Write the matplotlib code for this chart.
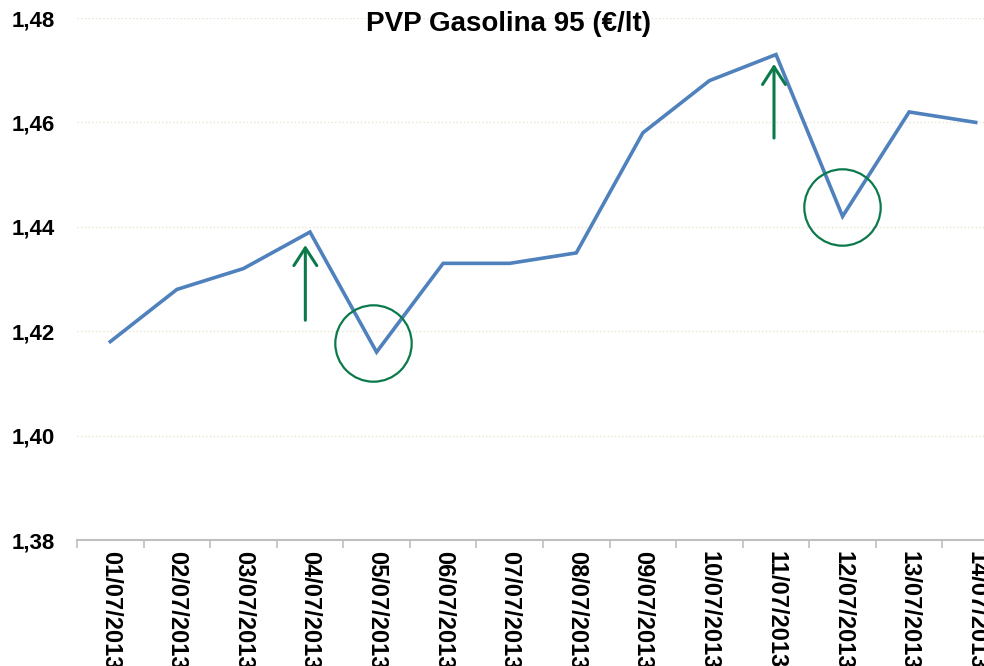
import matplotlib.pyplot as plt
import numpy as np
from matplotlib.ticker import FixedLocator, FuncFormatter

dates = ['01/07/2013', '02/07/2013', '03/07/2013', '04/07/2013', '05/07/2013',
         '06/07/2013', '07/07/2013', '08/07/2013', '09/07/2013', '10/07/2013',
         '11/07/2013', '12/07/2013', '13/07/2013', '14/07/2013']
prices = [1.418, 1.428, 1.432, 1.439, 1.416, 1.433, 1.433, 1.435, 1.458,
          1.468, 1.473, 1.442, 1.462, 1.460]

# annotations: rising arrows and circled dips
arrow_x = [2.93, 9.97]
arrow_from = [1.4221, 1.4570]
arrow_to = [1.4365, 1.4712]
circle_x = [3.95, 10.99]
circle_y = [1.4177, 1.4438]

plt.rcParams['font.family'] = ['Liberation Sans', 'DejaVu Sans']

fig = plt.figure(figsize=(9.84, 6.66), dpi=100)
ax = fig.add_axes([77 / 984, 126 / 666, 932 / 984, 522 / 666])

x = np.arange(len(dates))
ax.plot(x, prices, color='#4F81BD', lw=2.6, solid_joinstyle='miter', zorder=3)

green = '#0B7A4B'
for xa, y0, y1 in zip(arrow_x, arrow_from, arrow_to):
    ax.annotate('', xy=(xa, y1), xytext=(xa, y0),
                arrowprops=dict(arrowstyle='->,head_length=0.85,head_width=0.55',
                                color=green, lw=2.2, mutation_scale=15,
                                shrinkA=0, shrinkB=0))
ax.plot(circle_x, circle_y, 'o', ms=55, mfc='none', mec=green, mew=1.6, zorder=4)

ax.set_xlim(-0.5, len(dates) - 0.5)
ax.set_ylim(1.38, 1.48)
ax.set_yticks(np.arange(1.38, 1.481, 0.02))
ax.yaxis.set_major_formatter(FuncFormatter(lambda v, p: f'{v:.2f}'.replace('.', ',')))
ax.tick_params(axis='y', length=0, pad=16, labelsize=16)
for t in ax.get_yticklabels():
    t.set_fontweight('bold')

ax.set_xticks(x)
ax.set_xticklabels(dates, rotation=270, fontsize=17, fontweight='bold', va='top', ha='center')
ax.xaxis.set_minor_locator(FixedLocator(np.arange(-0.5, len(dates), 1)))
ax.tick_params(axis='x', which='major', length=0, pad=8)
ax.tick_params(axis='x', which='minor', length=6, width=1.2, color='#BFBFBF')

ax.grid(axis='y', color='#E6E4D2', linestyle=':', lw=1)
ax.set_axisbelow(True)
for s in ['top', 'right', 'left']:
    ax.spines[s].set_visible(False)
ax.spines['bottom'].set_color('#BFBFBF')
ax.spines['bottom'].set_linewidth(1.5)

fig.text(0.517, 1 - 24 / 666, 'PVP Gasolina 95 (€/lt)', ha='center', va='center',
         fontsize=20, fontweight='bold')

fig.savefig('out.png', dpi=100)
